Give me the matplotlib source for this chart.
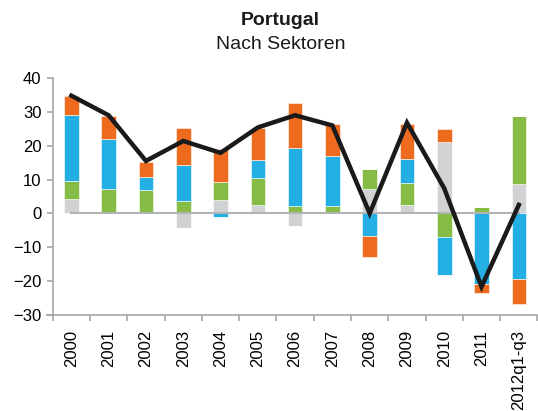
import matplotlib
matplotlib.use("Agg")
import matplotlib.pyplot as plt
import numpy as np

plt.rcParams['font.family'] = ['Liberation Sans', 'DejaVu Sans']

years = ["2000", "2001", "2002", "2003", "2004", "2005", "2006",
         "2007", "2008", "2009", "2010", "2011", "2012q1-q3"]

# sector contributions (stack order: grey, green, blue, orange)
grey   = [4.2, 0.0, 0.0, -4.2, 4.0, 2.6, -3.7, 0.0, 7.3, 2.6, 21.1, 0.4, 8.7]
green  = [5.4, 7.2, 7.0, 3.7, 5.2, 8.0, 2.1, 2.1, 5.7, 6.5, -7.1, 1.5, 20.1]
blue   = [19.6, 14.7, 3.7, 10.5, -1.2, 5.1, 17.1, 14.8, -6.6, 6.9, -11.2, -21.0, -19.4]
orange = [5.4, 6.9, 4.5, 11.1, 9.7, 9.6, 13.3, 9.4, -6.4, 10.5, 3.9, -2.5, -7.3]
total  = [34.8, 29.0, 15.5, 21.4, 17.9, 25.4, 29.0, 26.0, 0.0, 26.8, 7.4, -21.7, 2.5]

series = [(grey, "#D1D2D4"), (green, "#86BC45"), (blue, "#24AFE4"), (orange, "#ED6A1F")]

fig = plt.figure(figsize=(5.38, 4.11), dpi=100)
ax = fig.add_axes([0.098, 0.234, 0.901, 0.576])

x = np.arange(len(years))
pos_base = np.zeros(len(years))
neg_base = np.zeros(len(years))
for vals, col in series:
    v = np.array(vals)
    p = np.where(v > 0, v, 0)
    n = np.where(v < 0, v, 0)
    ax.bar(x, p, 0.39, bottom=pos_base, color=col, edgecolor="white", linewidth=0.4, zorder=2)
    ax.bar(x, n, 0.39, bottom=neg_base, color=col, edgecolor="white", linewidth=0.4, zorder=2)
    pos_base += p
    neg_base += n

# zero line
ax.plot(x, np.zeros(len(years)), color="#B3B4B6", lw=1.5, zorder=3)
ax.plot(x, total, color="#1A1A1A", lw=3.2, zorder=4, solid_joinstyle="miter")

ax.set_xlim(-0.5, 12.5)
ax.set_ylim(-30, 40)
ax.set_yticks(range(-30, 41, 10))
ax.set_xticks(x)
ax.set_xticklabels(years, rotation=90, fontsize=12, va="top")
ax.set_xticks(np.arange(-0.5, 13, 1), minor=True)
ax.tick_params(axis="x", which="major", length=0, pad=11)
ax.tick_params(axis="x", which="minor", length=4, color="#A6A6A6", width=1.2)
ax.tick_params(axis="y", length=4, color="#A6A6A6", width=1.2, labelsize=12, pad=4)

for s in ["top", "right"]:
    ax.spines[s].set_visible(False)
for s in ["left", "bottom"]:
    ax.spines[s].set_color("#A6A6A6")
    ax.spines[s].set_linewidth(1.2)
ax.spines["bottom"].set_bounds(-0.65, 12.5)

fig.text(0.521, 0.951, "Portugal", ha="center", va="center", fontsize=14, fontweight="bold", color="#1A1A1A")
fig.text(0.521, 0.892, "Nach Sektoren", ha="center", va="center", fontsize=14, color="#1A1A1A")

fig.savefig("out.png", dpi=100)
